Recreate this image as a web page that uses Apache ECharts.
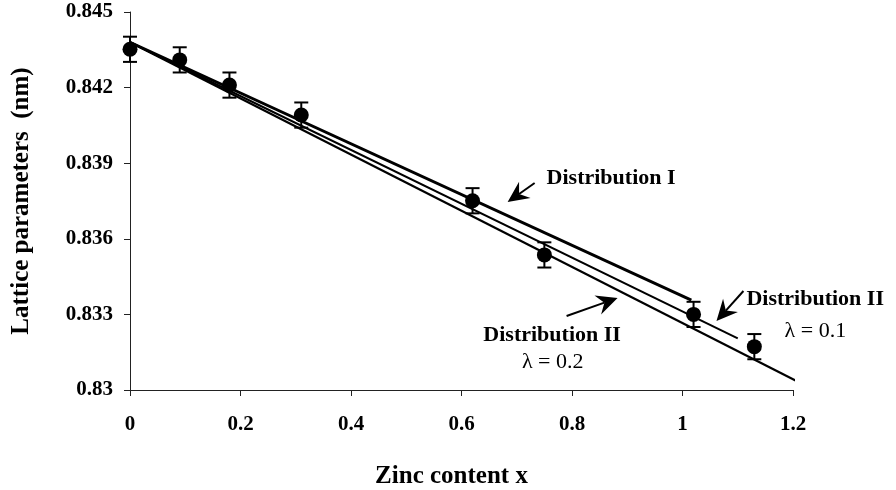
<!DOCTYPE html>
<html><head><meta charset="utf-8">
<script src="https://cdn.jsdelivr.net/npm/echarts@6.0.0/dist/echarts.min.js"></script>
<style>html,body{margin:0;padding:0;background:#fff}#c{width:896px;height:490px}</style>
</head><body><div id="c"></div>
<script>
// Measured points
const zincX = [0, 0.09, 0.18, 0.31, 0.62, 0.75, 1.02, 1.13];
const latticeA = [0.84352, 0.84310, 0.84210, 0.84091, 0.83751, 0.83536, 0.83300, 0.83172];
const latticeErr = [0.0005, 0.0005, 0.0005, 0.0005, 0.0005, 0.0005, 0.0005, 0.0005];
// Model lines (end points)
const distIX = [0, 1.016];
const distIY = [0.8438, 0.83357];
const distII01X = [0, 1.100];
const distII01Y = [0.8438, 0.83205];
const distII02X = [0, 1.23];
const distII02Y = [0.8438, 0.83009];
// Axis ticks
const xTicks = [0, 0.2, 0.4, 0.6, 0.8, 1, 1.2];
const yTicks = [0.83, 0.833, 0.836, 0.839, 0.842, 0.845];
// Annotations (data coordinates)
const annoTexts = ['Distribution I', 'Distribution II', 'λ = 0.1', 'Distribution II', 'λ = 0.2'];
const annoX = [0.754, 1.1157, 1.2405, 0.764, 0.765];
const annoY = [0.83841, 0.83361, 0.83234, 0.83218, 0.83111];
const arrowTailX = [0.7324, 1.1103, 0.7902];
const arrowTailY = [0.838214, 0.833929, 0.832937];
const arrowTipX = [0.6835, 1.0615, 0.8825];
const arrowTipY = [0.837460, 0.832738, 0.833651];

const FONT = '"Liberation Serif", "Times New Roman", serif';
const pts = zincX.map((x, i) => [x, latticeA[i]]);
const errs = zincX.map((x, i) => [x, latticeA[i], latticeErr[i]]);
const toPairs = (xs, ys) => xs.map((x, i) => [x, ys[i]]);

const chart = echarts.init(document.getElementById('c'), null, {renderer: 'canvas'});
const option = {
  animation: false,
  backgroundColor: '#fff',
  grid: {left: 130, right: 103, top: 12, bottom: 100, containLabel: false, outerBoundsMode: 'none'},
  xAxis: {
    type: 'value', min: xTicks[0], max: xTicks[xTicks.length - 1], interval: 0.2,
    name: 'Zinc content x', nameLocation: 'middle', nameGap: 74, nameMoveOverlap: false,
    nameTextStyle: {fontFamily: FONT, fontWeight: 'bold', fontSize: 25, color: '#000', padding: [0, 20, 0, 0]},
    axisLine: {show: true, onZero: false, lineStyle: {color: '#222', width: 1}},
    axisTick: {show: true, length: 6, inside: false, lineStyle: {color: '#222'}},
    axisLabel: {margin: 24, fontFamily: FONT, fontWeight: 'bold', fontSize: 21, color: '#000'},
    splitLine: {show: false}
  },
  yAxis: {
    type: 'value', min: yTicks[0], max: yTicks[yTicks.length - 1],
    name: 'Lattice parameters  (nm)', nameLocation: 'middle', nameGap: 96, nameRotate: 90, nameMoveOverlap: false,
    nameTextStyle: {fontFamily: FONT, fontWeight: 'bold', fontSize: 25, color: '#000'},
    axisLine: {show: true, onZero: false, lineStyle: {color: '#222', width: 1}},
    axisTick: {show: true, length: 6, inside: false, customValues: yTicks, lineStyle: {color: '#222'}},
    axisLabel: {margin: 17, customValues: yTicks, fontFamily: FONT, fontWeight: 'bold', fontSize: 21, color: '#000'},
    splitLine: {show: false}
  },
  series: [
    {type: 'line', name: 'Distribution I', data: toPairs(distIX, distIY), symbol: 'none', clip: false,
     lineStyle: {color: '#000', width: 3}, z: 3},
    {type: 'line', name: 'Distribution II 0.1', data: toPairs(distII01X, distII01Y), symbol: 'none', clip: false,
     lineStyle: {color: '#000', width: 2}, z: 3},
    {type: 'line', name: 'Distribution II 0.2', data: toPairs(distII02X, distII02Y), symbol: 'none', clip: false,
     lineStyle: {color: '#000', width: 2.2}, z: 3},
    {type: 'custom', name: 'err', data: errs, z: 4,
     renderItem: function (params, api) {
       const x = api.value(0), y = api.value(1), e = api.value(2);
       const top = api.coord([x, y + e]);
       const bot = api.coord([x, y - e]);
       const hw = 7;
       const st = {stroke: '#000', lineWidth: 2};
       return {type: 'group', children: [
         {type: 'line', shape: {x1: top[0], y1: top[1], x2: bot[0], y2: bot[1]}, style: st},
         {type: 'line', shape: {x1: top[0] - hw, y1: top[1], x2: top[0] + hw, y2: top[1]}, style: st},
         {type: 'line', shape: {x1: bot[0] - hw, y1: bot[1], x2: bot[0] + hw, y2: bot[1]}, style: st}
       ]};
     }},
    {type: 'scatter', name: 'data', data: pts, symbol: 'circle', symbolSize: 15,
     itemStyle: {color: '#000', opacity: 1}, z: 5}
  ]
};
chart.setOption(option);

// Annotations placed via data coordinates
const graphics = [];
const conv = (x, y) => chart.convertToPixel({gridIndex: 0}, [x, y]);
annoTexts.forEach((t, i) => {
  const p = conv(annoX[i], annoY[i]);
  const isLambda = t.indexOf('λ') === 0;
  graphics.push({
    type: 'text', x: p[0], y: p[1], z: 10,
    style: {
      text: t, fill: '#000',
      fontFamily: FONT, fontWeight: isLambda ? 'normal' : 'bold', fontSize: 22,
      align: (i === 0 || i === 1) ? 'left' : 'center', verticalAlign: 'middle'
    }
  });
});
arrowTailX.forEach((tx, i) => {
  const a = conv(tx, arrowTailY[i]);
  const b = conv(arrowTipX[i], arrowTipY[i]);
  const dx = b[0] - a[0], dy = b[1] - a[1];
  const len = Math.sqrt(dx * dx + dy * dy);
  const ux = dx / len, uy = dy / len, nx = -uy, ny = ux;
  const L = 21, W = 10, notch = 7;
  const base = [b[0] - ux * L, b[1] - uy * L];
  const nb = [b[0] - ux * (L - notch), b[1] - uy * (L - notch)];
  graphics.push({type: 'line', z: 10, shape: {x1: a[0], y1: a[1], x2: nb[0], y2: nb[1]},
    style: {stroke: '#000', lineWidth: 2}});
  graphics.push({type: 'polygon', z: 10, shape: {points: [
    b, [base[0] + nx * W, base[1] + ny * W], nb, [base[0] - nx * W, base[1] - ny * W]
  ]}, style: {fill: '#000'}});
});
chart.setOption({graphic: graphics});
</script>
</body></html>
